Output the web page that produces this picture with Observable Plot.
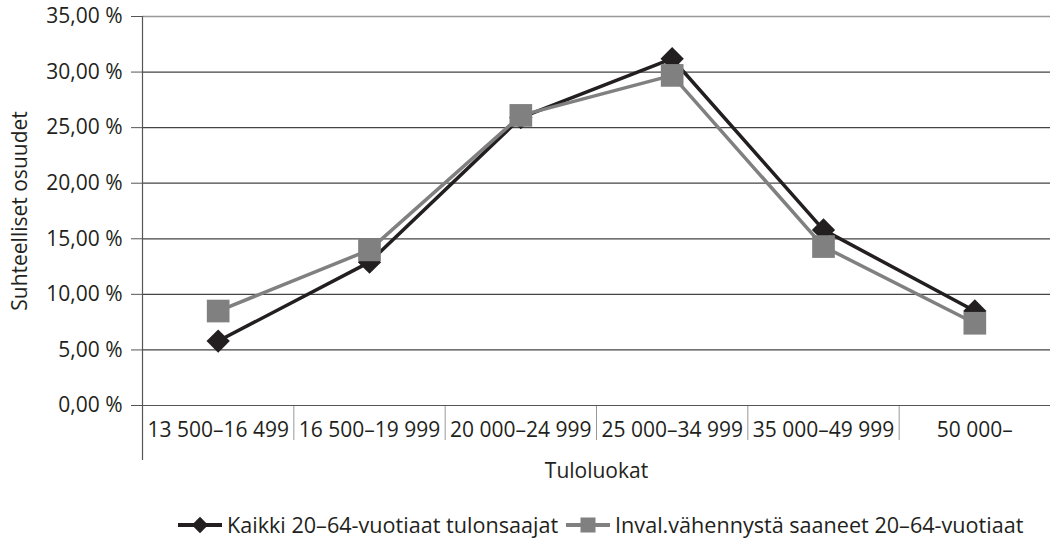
<!DOCTYPE html>
<html>
<head>
<meta charset="utf-8">
<script src="https://cdn.jsdelivr.net/npm/d3@7"></script>
<script src="https://cdn.jsdelivr.net/npm/@observablehq/plot@0.6"></script>
<style>
  html, body { margin: 0; padding: 0; background: #fff; }
  body { width: 1050px; height: 542px; position: relative; overflow: hidden; font-family: "Open Sans", sans-serif; color: #231f20; }
  #legend { position: absolute; left: 178px; top: 510px; display: flex; align-items: center; font-size: 21.6px; line-height: 30px; white-space: nowrap; }
  #legend .item { display: flex; align-items: center; }
  #legend svg { display: block; }
</style>
</head>
<body>
<div id="chart"></div>
<div id="legend"></div>
<script>
const categories = ["13 500–16 499", "16 500–19 999", "20 000–24 999", "25 000–34 999", "35 000–49 999", "50 000–"];
const kaikki = [5.8, 12.9, 25.9, 31.2, 15.8, 8.5];
const inval = [8.5, 14.0, 26.1, 29.7, 14.3, 7.4];
const seriesNames = ["Kaikki 20–64-vuotiaat tulonsaajat", "Inval.vähennystä saaneet 20–64-vuotiaat"];
const seriesColors = ["#231f20", "#808080"];
const yTicks = [0, 5, 10, 15, 20, 25, 30, 35];
const yLabel = "Suhteelliset osuudet";
const xLabel = "Tuloluokat";

const idx = d3.range(categories.length);
const boundaries = d3.range(categories.length + 1).map(i => i - 0.5);
const dataK = idx.map(i => ({i, value: kaikki[i], series: seriesNames[0]}));
const dataI = idx.map(i => ({i, value: inval[i], series: seriesNames[1]}));
const fmt = d => d.toFixed(2).replace(".", ",") + " %";
const FS = 21;

const plot = Plot.plot({
  width: 1050,
  height: 495,
  marginLeft: 142,
  marginRight: 0,
  marginTop: 16,
  marginBottom: 90,
  style: {fontFamily: "Open Sans, sans-serif", fontSize: FS + "px", color: "#231f20", background: "#fff"},
  x: {type: "linear", domain: [-0.5, categories.length - 0.5], axis: null},
  y: {domain: [0, 35], axis: null},
  color: {domain: seriesNames, range: seriesColors},
  marks: [
    Plot.ruleY(yTicks.filter(d => d > 0 && d < 35), {stroke: "#444", strokeWidth: 1.2}),
    Plot.ruleY([35], {stroke: "#999", strokeWidth: 1.5}),
    Plot.axisY({ticks: yTicks, tickSize: 11, tickPadding: 9, tickFormat: fmt, label: null, stroke: "#555", fontSize: FS}),
    Plot.axisX({ticks: boundaries.slice(1), tickSize: 35, tickFormat: () => "", label: null, stroke: "#999"}),
    Plot.axisX({ticks: idx, tickSize: 0, tickPadding: 17, tickFormat: i => categories[i], label: null, fontSize: FS}),
    Plot.ruleX([-0.5], {stroke: "#555", strokeWidth: 1.2, insetBottom: -55}),
    Plot.ruleY([0], {stroke: "#555", strokeWidth: 1.2}),
    Plot.text([yLabel], {frameAnchor: "left", textAnchor: "middle", rotate: -90, dx: -122, fontSize: FS, fill: "#231f20"}),
    Plot.text([xLabel], {frameAnchor: "bottom", dy: 72, fontSize: FS, fill: "#231f20"}),
    Plot.line(dataK, {x: "i", y: "value", stroke: "series", strokeWidth: 3.5}),
    Plot.line(dataI, {x: "i", y: "value", stroke: "series", strokeWidth: 3.5}),
    Plot.dot(dataK, {x: "i", y: "value", symbol: "diamond2", r: 10.5, fill: "series", stroke: "none"}),
    Plot.dot(dataI, {x: "i", y: "value", symbol: "square", r: 12.8, fill: "series", stroke: "none"})
  ]
});
document.getElementById("chart").appendChild(plot);

// legend
const legend = d3.select("#legend");
seriesNames.forEach((name, k) => {
  const item = legend.append("div").attr("class", "item").style("margin-right", k === 0 ? "8px" : "0");
  const w = 44;
  const svg = item.append("svg").attr("width", w).attr("height", 22).style("margin-right", "5px");
  svg.append("line").attr("x1", 0).attr("x2", w).attr("y1", 11).attr("y2", 11)
    .attr("stroke", seriesColors[k]).attr("stroke-width", 4);
  if (k === 0) {
    svg.append("path").attr("transform", `translate(${w / 2},11)`)
      .attr("d", d3.symbol(d3.symbolDiamond2, 170)()).attr("fill", seriesColors[k]);
  } else {
    svg.append("rect").attr("x", w / 2 - 7.5).attr("y", 3.5).attr("width", 15).attr("height", 15).attr("fill", seriesColors[k]);
  }
  item.append("span").text(name);
});
</script>
</body>
</html>
